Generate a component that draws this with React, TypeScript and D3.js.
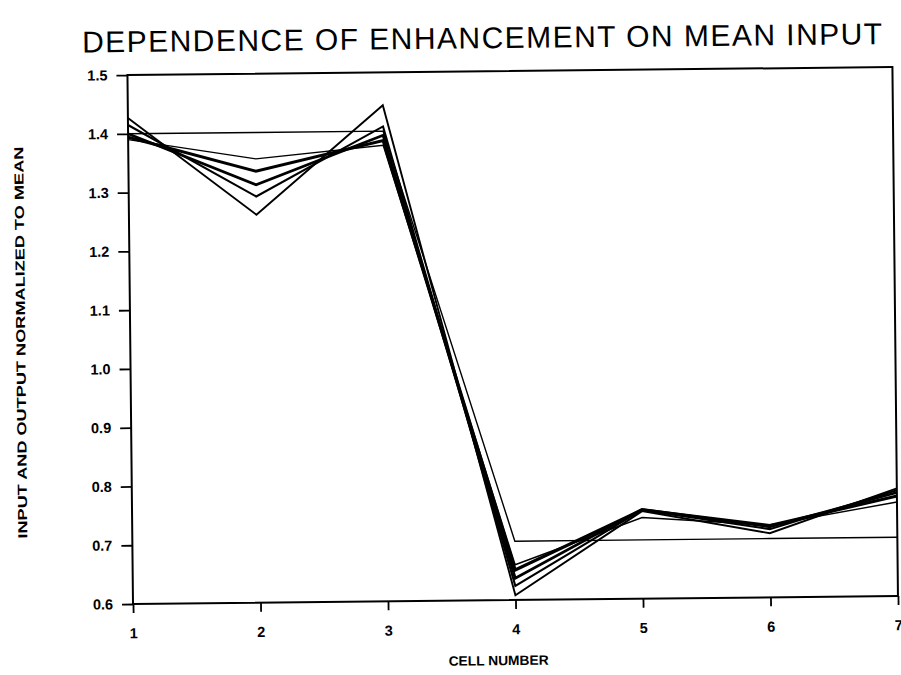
import React, { useRef, useEffect } from 'react';
import * as d3 from 'd3';

// cell positions along the x axis
const cells = [1, 2, 3, 4, 5, 6, 7];
const yTicks = [0.6, 0.7, 0.8, 0.9, 1.0, 1.1, 1.2, 1.3, 1.4, 1.5];

// input (step) and the outputs for decreasing amounts of enhancement
const input = [1.4, 1.4, 1.4, 0.7, 0.7, 0.7, 0.7];
const outA = [1.427, 1.26, 1.444, 0.608, 0.749, 0.709, 0.783];
const outB = [1.415, 1.291, 1.408, 0.624, 0.751, 0.716, 0.78];
const outC = [1.4, 1.311, 1.393, 0.637, 0.752, 0.72, 0.776];
const outD = [1.394, 1.334, 1.384, 0.651, 0.751, 0.722, 0.77];
const outE = [1.39, 1.355, 1.376, 0.66, 0.738, 0.723, 0.76];

const series = [
  { name: 'input', values: input, width: 1.4 },
  { name: 'A', values: outA, width: 1.9 },
  { name: 'B', values: outB, width: 2.1 },
  { name: 'C', values: outC, width: 2.7 },
  { name: 'D', values: outD, width: 3.1 },
  { name: 'E', values: outE, width: 1.4 },
];

const W = 901, H = 675;
const left = 133, right = 898, top = 75, bottom = 604;
const font = '"Liberation Sans", Arial, sans-serif';

const App = () => {
  const ref = useRef<SVGSVGElement>(null);

  useEffect(() => {
    const svg = d3.select(ref.current);
    svg.selectAll('*').remove();

    const x = d3.scaleLinear().domain([1, 7]).range([left, right]);
    const y = d3.scaleLinear().domain([0.6, 1.5]).range([bottom, top]);

    // the scan is tilted a little, so everything sits in a slightly rotated group
    const g = svg.append('g').attr('transform', `rotate(-0.6, ${left}, ${bottom})`);

    g.append('text')
      .attr('x', 88).attr('y', 52)
      .attr('textLength', 800)
      .attr('lengthAdjust', 'spacing')
      .style('font-family', font)
      .style('font-size', '30px')
      .style('font-weight', 'normal')
      .text('DEPENDENCE OF ENHANCEMENT ON MEAN INPUT');

    // frame
    g.append('rect')
      .attr('x', left).attr('y', top)
      .attr('width', right - left).attr('height', bottom - top)
      .attr('fill', 'none').attr('stroke', '#000').attr('stroke-width', 2);

    const xAxis = g.append('g')
      .attr('transform', `translate(0,${bottom})`)
      .call(d3.axisBottom(x).tickValues(cells).tickSize(9).tickPadding(15).tickFormat(d3.format('d')));
    const yAxis = g.append('g')
      .attr('transform', `translate(${left},0)`)
      .call(d3.axisLeft(y).tickValues(yTicks).tickSize(11).tickPadding(9).tickFormat(d3.format('.1f')));

    [xAxis, yAxis].forEach((a) => {
      a.select('.domain').remove();
      a.selectAll('line').attr('stroke', '#000').attr('stroke-width', 1.8);
      a.selectAll('text')
        .style('font-family', font)
        .style('font-size', '14.5px')
        .style('font-weight', 'bold')
        .attr('fill', '#000');
    });

    const line = d3.line<number>()
      .x((d, i) => x(cells[i]))
      .y((d) => y(d));

    g.selectAll('path.series')
      .data(series)
      .join('path')
      .attr('class', 'series')
      .attr('d', (d) => line(d.values))
      .attr('fill', 'none')
      .attr('stroke', '#000')
      .attr('stroke-width', (d) => d.width)
      .attr('stroke-linejoin', 'miter');

    g.append('text')
      .attr('x', 498).attr('y', 669)
      .attr('text-anchor', 'middle')
      .attr('textLength', 100)
      .attr('lengthAdjust', 'spacingAndGlyphs')
      .style('font-family', font)
      .style('font-size', '13.5px')
      .style('font-weight', 'bold')
      .text('CELL NUMBER');

    g.append('text')
      .attr('transform', `translate(28,${(top + bottom) / 2 + 2}) rotate(-90)`)
      .attr('text-anchor', 'middle')
      .attr('textLength', 392)
      .attr('lengthAdjust', 'spacingAndGlyphs')
      .style('font-family', font)
      .style('font-size', '13px')
      .style('font-weight', 'bold')
      .text('INPUT AND OUTPUT NORMALIZED TO MEAN');
  }, []);

  return (
    <div>
      <svg ref={ref} width={W} height={H}
        style={{ position: 'absolute', left: 0, top: 0, background: '#fff' }} />
    </div>
  );
};

export default App;
